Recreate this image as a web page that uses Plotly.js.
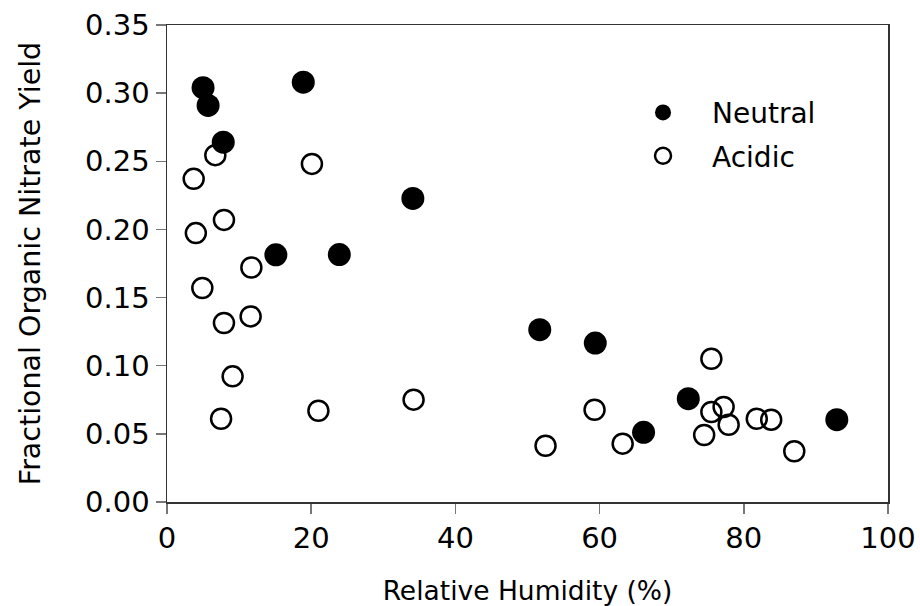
<!DOCTYPE html>
<html>
<head>
<meta charset="utf-8">
<script src="https://cdn.plot.ly/plotly-3.0.1.min.js"></script>
<style>html,body{margin:0;padding:0;background:#fff;}#chart{width:920px;height:606px;}</style>
</head>
<body>
<div id="chart"></div>
<script>
const neutralRH = [5.0, 5.7, 7.8, 18.9, 34.1, 15.1, 23.9, 51.7, 59.4, 72.3, 66.1, 92.9];
const neutralYield = [0.304, 0.291, 0.264, 0.308, 0.2227, 0.1814, 0.1816, 0.1264, 0.1166, 0.0758, 0.0511, 0.0604];

const acidicRH = [6.7, 3.7, 20.1, 7.9, 4.0, 11.7, 4.9, 7.9, 11.6, 9.1, 7.5, 21.0, 34.2, 52.5, 59.3, 63.2, 75.5, 75.5, 77.2, 74.5, 77.9, 81.8, 83.8, 87.0];
const acidicYield = [0.2545, 0.2371, 0.2481, 0.207, 0.1973, 0.1721, 0.157, 0.1313, 0.1362, 0.0922, 0.0611, 0.067, 0.0751, 0.0413, 0.0677, 0.0428, 0.1051, 0.066, 0.0697, 0.0492, 0.0567, 0.0611, 0.0604, 0.0372];

const xTicks = [0, 20, 40, 60, 80, 100];
const yTicks = [0.00, 0.05, 0.10, 0.15, 0.20, 0.25, 0.30, 0.35];

const FONT = 'DejaVu Sans, Lucida Grande, sans-serif';

const traces = [
  {
    x: neutralRH, y: neutralYield, name: 'Neutral', type: 'scatter', mode: 'markers',
    legendgroup: 'n',
    marker: {symbol: 'circle', size: 23, color: '#000', line: {width: 0}},
    cliponaxis: false
  },
  {
    x: acidicRH, y: acidicYield, name: 'Acidic', type: 'scatter', mode: 'markers',
    legendgroup: 'a',
    marker: {symbol: 'circle-open', size: 20, color: '#000', line: {width: 2.5, color: '#000'}},
    cliponaxis: false
  }
];

const layout = {
  width: 920, height: 606,
  margin: {l: 167, r: 32, t: 25, b: 104},
  paper_bgcolor: '#fff', plot_bgcolor: '#fff',
  font: {family: FONT, color: '#000', size: 26},
  showlegend: true,
  legend: {
    x: 0.620, y: 0.771, xanchor: 'left', yanchor: 'middle',
    bgcolor: 'rgba(0,0,0,0)', borderwidth: 0,
    font: {family: FONT, size: 28, color: '#000'},
    itemwidth: 88, tracegroupgap: 4
  },
  xaxis: {
    range: [0, 100], tickvals: xTicks, ticktext: xTicks.map(String),
    showgrid: false, zeroline: false,
    showline: true, linecolor: '#333', linewidth: 1.5, mirror: true,
    ticks: 'outside', ticklen: 10, tickwidth: 1.5, tickcolor: '#777',
    tickfont: {family: FONT, size: 29, color: '#000'},
    title: {text: 'Relative Humidity (%)', font: {family: FONT, size: 26.5, color: '#000'}, standoff: 30}
  },
  yaxis: {
    range: [0, 0.35], tickvals: yTicks, ticktext: yTicks.map(v => v.toFixed(2)),
    showgrid: false, zeroline: false,
    showline: true, linecolor: '#333', linewidth: 1.5, mirror: true,
    ticks: 'outside', ticklen: 10, tickwidth: 1.5, tickcolor: '#777',
    tickfont: {family: FONT, size: 29, color: '#000'},
    title: {text: 'Fractional Organic Nitrate Yield', font: {family: FONT, size: 28.5, color: '#000'}, standoff: 36}
  }
};

Plotly.newPlot('chart', traces, layout, {staticPlot: true, displayModeBar: false});
</script>
</body>
</html>
